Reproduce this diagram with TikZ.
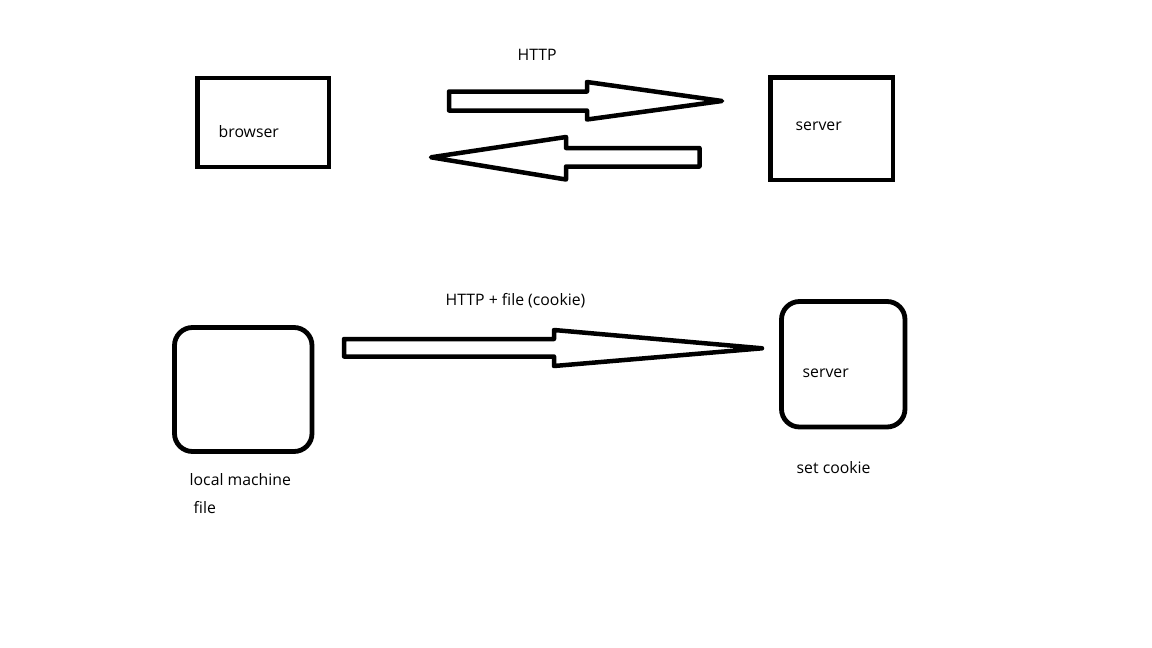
\documentclass[tikz,border=0pt]{standalone}
\usepackage{fontspec}
\setmainfont{Open Sans}
\begin{document}
\begin{tikzpicture}[x=1pt,y=-1pt,
  bigarrow/.style={draw=black,line width=4.5pt,line join=round,fill=white},
  lbl/.style={anchor=base west,inner sep=0pt,font=\fontsize{15.8}{18}\selectfont,text=black}]
\useasboundingbox[fill=white] (0,0) rectangle (1152,648);
% boxes
\node[draw=black,line width=4.8pt,minimum width=131.5pt,minimum height=89pt,inner sep=0pt] (browser) at (263.25,122.5) {};
\node[draw=black,line width=4.8pt,minimum width=122.5pt,minimum height=102.5pt,inner sep=0pt] (server1) at (831.75,128.75) {};
\node[draw=black,line width=4.8pt,rounded corners=18pt,minimum width=137.5pt,minimum height=124pt,inner sep=0pt] (local) at (243.25,389.5) {};
\node[draw=black,line width=4.8pt,rounded corners=18pt,minimum width=123.5pt,minimum height=125.5pt,inner sep=0pt] (server2) at (843.25,364.25) {};
% labels
\node[lbl] (tbrowser) at (218.5,137) {browser};
\node[lbl] (tserver1) at (795.5,130.5) {server};
\node[lbl] (thttp) at (517.5,60.5) {HTTP};
\node[lbl] (thttpfile) at (445.5,305) {HTTP + file (cookie)};
\node[lbl] (tlocal) at (189.5,485) {local machine};
\node[lbl] (tfile) at (193.5,513.5) {file};
\node[lbl] (tserver2) at (802.5,377.5) {server};
\node[lbl] (tsetcookie) at (796.5,473.5) {set cookie};
% block arrows
\draw[bigarrow] (449,91.5) -- (587,91.5) -- (587,82) -- (722,101) -- (587,119.5) -- (587,110.5) -- (449,110.5) -- cycle;
\draw[bigarrow] (699.5,148) -- (566,148) -- (566,137) -- (431,157.3) -- (566,179.5) -- (566,166.5) -- (699.5,166.5) -- cycle;
\draw[bigarrow] (344,339) -- (554,339) -- (554,330) -- (762,348.3) -- (554,366) -- (554,356.5) -- (344,356.5) -- cycle;
\end{tikzpicture}
\end{document}
